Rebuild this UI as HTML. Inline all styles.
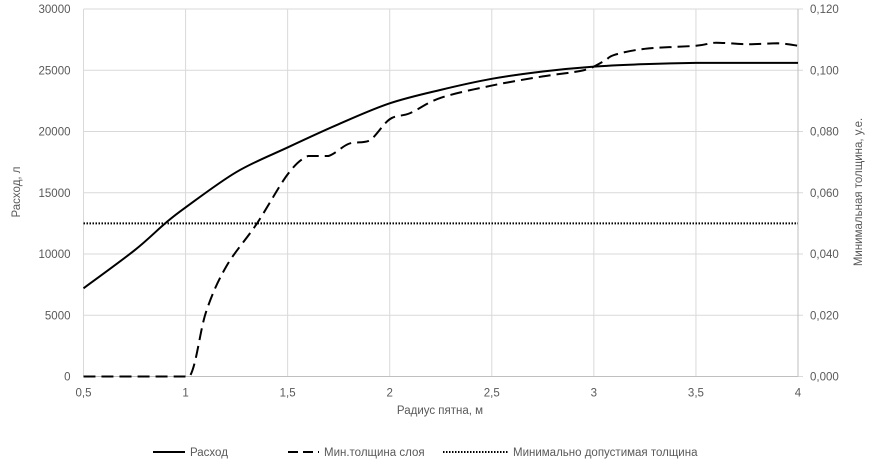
<!DOCTYPE html>
<html><head><meta charset="utf-8"><style>
body{margin:0;background:#fff;}
svg text{font-family:"Liberation Sans",sans-serif;fill:#595959;font-size:11.5px;}
</style></head><body>
<svg id="chart" width="881" height="468" xmlns="http://www.w3.org/2000/svg">
<g id="grid"></g>
<g id="series"></g>
<g id="labels"></g>
<text x="440" y="414" text-anchor="middle" font-size="12.5">Радиус пятна, м</text>
<text transform="translate(20,192) rotate(-90)" text-anchor="middle" font-size="12.5">Расход, л</text>
<text transform="translate(862,192) rotate(-90)" text-anchor="middle" font-size="12.5">Минимальная толщина, у.е.</text>
<g>
<g><line x1="153" y1="452" x2="185" y2="452" stroke="#000" stroke-width="2"/><text x="190" y="456">Расход</text></g>
<g><line x1="288" y1="452" x2="319" y2="452" stroke="#000" stroke-width="2" stroke-dasharray="10,5"/><text x="324" y="456">Мин.толщина слоя</text></g>
<g><line x1="443" y1="452" x2="508" y2="452" stroke="#000" stroke-width="2" stroke-dasharray="1.5,1.5"/><text x="513" y="456">Минимально допустимая толщина</text></g>
</g>
</svg>
<script>
const xTicks=[0.5,1,1.5,2,2.5,3,3.5,4];
const xTickLabels=["0,5","1","1,5","2","2,5","3","3,5","4"];
const leftTicks=[0,5000,10000,15000,20000,25000,30000];
const rightTickLabels=["0,000","0,020","0,040","0,060","0,080","0,100","0,120"];
const rashodX=[0.5,0.75,0.9,1,1.25,1.5,1.75,2,2.25,2.5,2.75,3,3.25,3.5,3.75,4];
const rashodY=[7200,10300,12500,13800,16700,18700,20600,22300,23400,24300,24900,25300,25500,25600,25600,25600];
const thickX=[0.5,0.9,1.02,1.1,1.2,1.35,1.5,1.6,1.7,1.8,1.9,2,2.1,2.25,2.5,2.75,2.95,3.05,3.1,3.25,3.5,3.6,3.75,3.9,4];
const thickY=[0,0,0,0.021,0.036,0.050,0.066,0.072,0.072,0.076,0.077,0.084,0.086,0.091,0.095,0.098,0.1,0.103,0.105,0.107,0.108,0.109,0.1085,0.1088,0.108];
const minAllowed=0.05;
const X0=83.5,X1=798,Y0=376.5,Y1=9;
const sx=v=>X0+(v-0.5)/(3.5)*(X1-X0);
const syL=v=>Y0-v/30000*(Y0-Y1);
const syR=v=>Y0-v/0.12*(Y0-Y1);
const NS="http://www.w3.org/2000/svg";
const grid=document.getElementById('grid'),series=document.getElementById('series'),labels=document.getElementById('labels');
function mk(t,a,p){const e=document.createElementNS(NS,t);for(const k in a)e.setAttribute(k,a[k]);p.appendChild(e);return e;}
xTicks.forEach((v,i)=>{
 const l=mk('line',{x1:sx(v),x2:sx(v),y1:Y1,y2:Y0,stroke:'#d9d9d9'},grid);
 
 
 const t=mk('text',{x:sx(v),y:Y0+20,'text-anchor':'middle'},labels);t.textContent=xTickLabels[i];
 
 
});
leftTicks.forEach((v,i)=>{
 const l=mk('line',{x1:X0,x2:X1+5,y1:syL(v),y2:syL(v),stroke:'#d9d9d9'},grid);
 
 
 const t=mk('text',{x:X0-13,y:syL(v)+4,'text-anchor':'end'},labels);t.textContent=String(v);
 
 
 const r=mk('text',{x:X1+12,y:syL(v)+4},labels);r.textContent=rightTickLabels[i];
 
 
});
mk('line',{x1:X1,x2:X1,y1:Y1,y2:Y0,stroke:'#bfbfbf'},grid);
mk('line',{x1:X0,x2:X1,y1:Y0,y2:Y0,stroke:'#bfbfbf'},grid);
function cl(v,a,b){const lo=Math.min(a,b),hi=Math.max(a,b);return Math.max(lo,Math.min(hi,v));}
function smooth(pts){let d='M'+pts[0][0]+','+pts[0][1];for(let i=0;i<pts.length-1;i++){const p0=pts[Math.max(0,i-1)],p1=pts[i],p2=pts[i+1],p3=pts[Math.min(pts.length-1,i+2)];
 const c1=[p1[0]+(p2[0]-p0[0])/6,cl(p1[1]+(p2[1]-p0[1])/6,p1[1],p2[1])],c2=[p2[0]-(p3[0]-p1[0])/6,cl(p2[1]-(p3[1]-p1[1])/6,p1[1],p2[1])];
 d+=' C'+c1+' '+c2+' '+p2;}return d;}
const p1=mk('path',{d:smooth(rashodX.map((x,i)=>[sx(x),syL(rashodY[i])])),fill:'none',stroke:'#000','stroke-width':2},series);


const p2=mk('path',{d:smooth(thickX.map((x,i)=>[sx(x),syR(thickY[i])])),fill:'none',stroke:'#000','stroke-width':2,'stroke-dasharray':'12,6'},series);


const p3=mk('line',{x1:X0,x2:X1,y1:syR(minAllowed),y2:syR(minAllowed),stroke:'#000','stroke-width':2,'stroke-dasharray':'1.5,1.5'},series);


</script>
</body></html>
